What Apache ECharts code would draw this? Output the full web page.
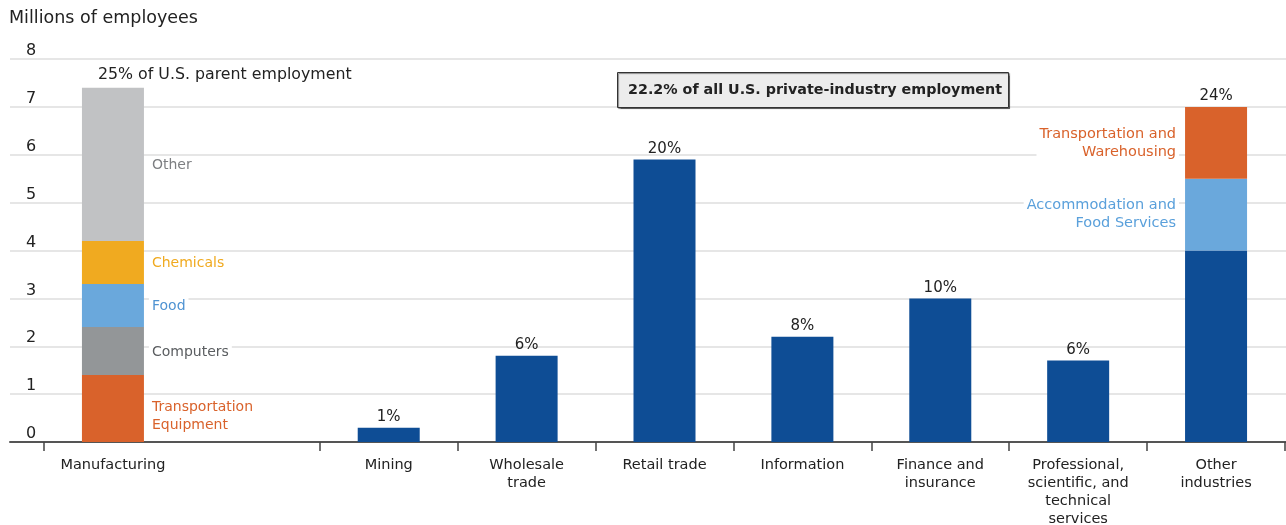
<!DOCTYPE html>
<html>
<head>
<meta charset="utf-8">
<script src="https://cdn.jsdelivr.net/npm/echarts@6/dist/echarts.min.js"></script>
<style>
  html, body { margin: 0; padding: 0; background: #fff; }
  #chart { width: 1286px; height: 525px; }
</style>
</head>
<body>
<div id="chart"></div>
<script>
// Industry categories (index 1 is an empty spacer slot after Manufacturing)
const categories = [
  'Manufacturing', '', 'Mining', 'Wholesale\ntrade', 'Retail trade', 'Information',
  'Finance and\ninsurance', 'Professional,\nscientific, and\ntechnical\nservices', 'Other\nindustries'
];

// Employment, millions, for the single-colour industry bars
const industryValues = ['-', '-', 0.3, 1.8, 5.9, 2.2, 3.0, 1.7, 4.0];

// Manufacturing breakdown, bottom to top
const mfgSegmentNames = ['Transportation\nEquipment', 'Computers', 'Food', 'Chemicals', 'Other'];
const mfgSegmentValues = [1.4, 1.0, 0.9, 0.9, 3.2];

// Other industries breakdown above the base bar, bottom to top
const otherSegmentNames = ['Accommodation and\nFood Services', 'Transportation and\nWarehousing'];
const otherSegmentValues = [1.5, 1.5];

// Share labels shown above each stack
const shareLabels = ['25% of U.S. parent employment', '', '1%', '6%', '20%', '8%', '10%', '6%', '24%'];

// Y axis ticks
const yTicks = [0, 1, 2, 3, 4, 5, 6, 7, 8];

const boxText = '22.2% of all U.S. private-industry employment';

const FONT = 'DejaVu Sans';
const DARK_BLUE = '#0e4d95';
const mfgColors = ['#d9622b', '#939698', '#6aa8dc', '#f0aa20', '#c1c2c4'];
const mfgLabelColors = ['#d9622b', '#5a5d60', '#4f93d2', '#f0aa20', '#7d7f82'];
const otherColors = ['#6aa8dc', '#d9622b'];
const otherLabelColors = ['#5aa0db', '#d9622b'];

const MFG = 0, OTHER = categories.length - 1;

function onlyAt(index, value) {
  return categories.map((_, i) => (i === index ? value : '-'));
}

const series = [];

// Base industry bars
series.push({
  name: 'Industries',
  type: 'bar',
  stack: 'total',
  xAxisIndex: 1,
  yAxisIndex: 1,
  barWidth: 62,
  itemStyle: { color: DARK_BLUE },
  data: industryValues
});

// Manufacturing segments with side labels
mfgSegmentNames.forEach((name, k) => {
  series.push({
    name: name,
    type: 'bar',
    stack: 'total',
    xAxisIndex: 1,
    yAxisIndex: 1,
    barWidth: 62,
    itemStyle: { color: mfgColors[k] },
    label: {
      show: true,
      position: 'right',
      distance: 5,
      offset: k === 0 ? [0, 8] : [0, 1],
      formatter: name,
      color: mfgLabelColors[k],
      fontFamily: FONT,
      fontSize: 14,
      lineHeight: 18,
      backgroundColor: '#fff',
      padding: [0, 3]
    },
    data: onlyAt(MFG, mfgSegmentValues[k])
  });
});

// Other-industries segments with labels on the left
otherSegmentNames.forEach((name, k) => {
  series.push({
    name: name,
    type: 'bar',
    stack: 'total',
    xAxisIndex: 1,
    yAxisIndex: 1,
    barWidth: 62,
    itemStyle: { color: otherColors[k] },
    label: {
      show: true,
      position: 'left',
      distance: 6,
      align: 'right',
      formatter: name,
      color: otherLabelColors[k],
      fontFamily: FONT,
      fontSize: 14.5,
      lineHeight: 18,
      backgroundColor: '#fff',
      padding: [0, 3]
    },
    data: onlyAt(OTHER, otherSegmentValues[k])
  });
});

// Zero-height cap carrying the share label on top of each stack
series.push({
  name: 'Share',
  type: 'bar',
  stack: 'total',
  xAxisIndex: 1,
  yAxisIndex: 1,
  barWidth: 62,
  itemStyle: { color: 'transparent' },
  label: {
    show: true,
    position: 'top',
    distance: 3,
    color: '#222',
    fontFamily: FONT,
    fontSize: 15,
    formatter: p => shareLabels[p.dataIndex]
  },
  data: categories.map((_, i) => {
    if (!shareLabels[i]) return '-';
    if (i === MFG) {
      return {
        value: 0,
        label: { position: [16, -13], align: 'left', verticalAlign: 'middle', fontSize: 15.8 }
      };
    }
    return 0;
  })
});

const chart = echarts.init(document.getElementById('chart'), null, { renderer: 'canvas' });

chart.setOption({
  animation: false,
  textStyle: { fontFamily: FONT },
  title: [
    {
      text: 'Millions of employees',
      left: 4,
      top: 4,
      textStyle: { fontFamily: FONT, fontSize: 17.5, fontWeight: 'normal', color: '#222' }
    },
    {
      text: boxText,
      left: 617,
      top: 72,
      padding: [11, 7, 11, 11],
      backgroundColor: '#ececec',
      borderColor: '#333',
      borderWidth: 1,
      shadowColor: 'rgba(0,0,0,0.45)',
      shadowBlur: 1,
      shadowOffsetX: 1,
      shadowOffsetY: 1,
      textStyle: { fontFamily: FONT, fontSize: 14.3, fontWeight: 'bold', color: '#222' }
    }
  ],
  grid: [
    { left: 10, right: 0, top: 59, bottom: 83, outerBoundsMode: 'none' },
    { left: 44, right: 1, top: 59, bottom: 83, outerBoundsMode: 'none' }
  ],
  xAxis: [
    {
      type: 'category',
      gridIndex: 0,
      data: [''],
      axisLine: { show: true, lineStyle: { color: '#555', width: 2 } },
      axisTick: { show: false },
      axisLabel: { show: false }
    },
    {
      type: 'category',
      gridIndex: 1,
      data: categories,
      axisLine: { show: false },
      axisTick: {
        show: true,
        length: 9,
        interval: (index) => index !== 1,
        lineStyle: { color: '#444', width: 1.5 }
      },
      axisLabel: {
        interval: 0,
        margin: 14,
        color: '#222',
        fontFamily: FONT,
        fontSize: 14.5,
        lineHeight: 18,
        verticalAlign: 'top'
      }
    }
  ],
  yAxis: [
    {
      type: 'value',
      gridIndex: 0,
      min: yTicks[0],
      max: yTicks[yTicks.length - 1],
      interval: 1,
      axisLine: { show: false },
      axisTick: { show: false },
      splitLine: { show: true, lineStyle: { color: '#dedede', width: 1.5 } },
      axisLabel: {
        inside: true,
        margin: 16,
        verticalAlign: 'bottom',
        color: '#222',
        fontFamily: FONT,
        fontSize: 16
      }
    },
    {
      type: 'value',
      gridIndex: 1,
      min: yTicks[0],
      max: yTicks[yTicks.length - 1],
      interval: 1,
      show: false
    }
  ],
  series: series
});
</script>
</body>
</html>
